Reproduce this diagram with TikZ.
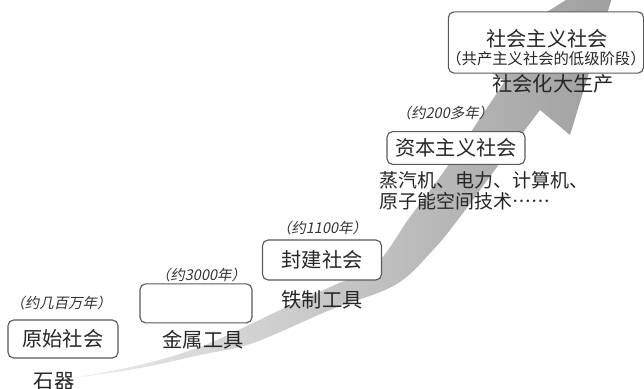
\documentclass[tikz,border=0pt]{standalone}
\usepackage{fontspec}
\setmainfont[Script=CJK, Language=Chinese Simplified]{Noto Sans CJK SC}
\newfontfamily\slantcjk[Script=CJK, Language=Chinese Simplified, FakeSlant=0.2]{Noto Sans CJK SC}

\begin{document}
\begin{tikzpicture}[
  stage/.style={draw=black!65, line width=0.8pt, rounded corners=4pt, fill=white, inner sep=0pt, font=\Large, text=black!85},
  era/.style={font=\slantcjk\fontsize{10.3pt}{12pt}\selectfont, text=black!80},
  tool/.style={font=\Large, text=black!85}]
  \clip (0,0) rectangle (16.1,9.725);

  \shade [left color=black!8, middle color=black!31, right color=black!38]
    plot [smooth, tension=0.6] coordinates {(1.825,0.275) (3.5,0.525) (5.0,0.85) (6.325,1.15) (8.25,1.975)
      (9.875,2.6) (10.825,3.475) (11.5,4.3) (12.425,5.55) (13.5,6.975)}
    -- (14.25,6.35) -- (15.55,10.6) -- (11.75,8.225)
    -- plot [smooth, tension=0.6] coordinates {(12.625,7.7) (11.175,5.55) (10.25,4.3) (9.375,3.1) (8.25,2.55)
      (7.0,1.975) (6.325,1.65) (5.0,1.05) (3.5,0.6) (1.825,0.275)} -- cycle;

  \node [stage, minimum width=2.75cm, minimum height=0.95cm] (yuanshi) at (1.575,1.25) {原始社会};
  \node [era] (yuanshiT) at (1.525,2.15) {（约几百万年）};
  \node [tool] (shiqi) at (1.35,0.2) {石器};

  \node [stage, minimum width=2.8cm, minimum height=0.975cm] (jinshu) at (4.9,2.14) {};
  \node [era] (jinshuT) at (5.025,2.85) {（约3000年）};
  \node [tool] (jinshuL) at (5.075,1.225) {金属工具};

  \node [stage, minimum width=2.975cm, minimum height=1cm] (fengjian) at (8.05,3.225) {封建社会};
  \node [era] (fengjianT) at (8.05,4.025) {（约1100年）};
  \node [tool] (fengjianL) at (8.05,2.225) {铁制工具};

  \node [stage, minimum width=3.45cm, minimum height=0.82cm] (ziben) at (11.4,6.025) {资本主义社会};
  \node [era] (zibenT) at (11.125,6.9) {（约200多年）};
  \node [tool, anchor=west, align=left, font=\fontsize{13.5pt}{15pt}\selectfont] (zibenL) at (9.375,4.9625)
    {蒸汽机、电力、计算机、\\原子能空间技术……};

  \node [stage, minimum width=4.88cm, minimum height=1.53cm] (shehui) at (13.65,8.6625) {};
  \node [tool] (shehuiA) at (13.675,8.7625) {社会主义社会};
  \node [tool, font=\fontsize{10.9pt}{13pt}\selectfont] (shehuiB) at (13.65,8.25) {（共产主义社会的低级阶段）};
  \node [tool] (shehuiL) at (13.825,7.625) {社会化大生产};
\end{tikzpicture}
\end{document}
